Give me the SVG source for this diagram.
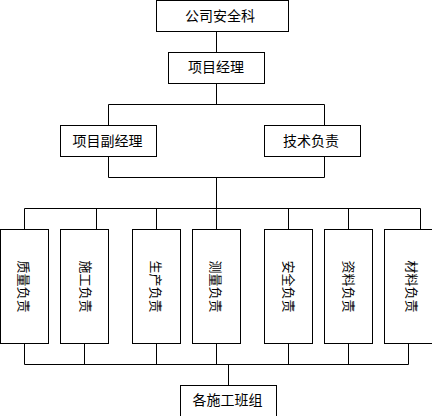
<svg xmlns="http://www.w3.org/2000/svg" width="432" height="416" viewBox="0 0 432 416">
<style>
rect{fill:#fff;stroke:#000;stroke-width:1}
#connectors path{fill:none;stroke:#000;stroke-width:1}
text{font-family:"Noto Sans CJK SC","Noto Sans",sans-serif;font-size:14px;fill:#000;text-anchor:middle;dominant-baseline:central}
text.v{font-size:13px}
</style>
<rect x="0" y="0" width="432" height="416" style="stroke:none"/>
<g id="connectors">
<path d="M216.5 31.5V52.5M216.5 83.5V104.5M108.5 125.5V104.5H324.5V125.5"/>
<path d="M108.5 156.5V177.5H324.5V156.5M216.5 177.5V208.5"/>
<path d="M24.5 229.5V208.5H420.5V229.5M96.5 208.5V229.5M156.5 208.5V229.5M216.5 208.5V229.5M288.5 208.5V229.5M348.5 208.5V229.5"/>
<path d="M24.5 343.5V364.5H408.5V343.5M84.5 343.5V364.5M156.5 343.5V364.5M216.5 343.5V364.5M288.5 343.5V364.5M348.5 343.5V364.5M228.5 364.5V385.5"/>
</g>
<g id="n-safety"><rect x="156.5" y="0.5" width="132" height="31"/><text x="220" y="15">公司安全科</text></g>
<g id="n-pm"><rect x="168.5" y="52.5" width="96" height="31"/><text x="216" y="66">项目经理</text></g>
<g id="n-dpm"><rect x="60.5" y="125.5" width="96" height="31"/><text x="107.5" y="139.5">项目副经理</text></g>
<g id="n-tech"><rect x="264.5" y="125.5" width="96" height="31"/><text x="311" y="139.5">技术负责</text></g>
<g id="n-quality"><rect x="0.5" y="229.5" width="48" height="114"/><text class="v" transform="translate(24.5 286.5) rotate(90)">质量负责</text></g>
<g id="n-construct"><rect x="60.5" y="229.5" width="48" height="114"/><text class="v" transform="translate(86 286.5) rotate(90)">施工负责</text></g>
<g id="n-production"><rect x="132.5" y="229.5" width="48" height="114"/><text class="v" transform="translate(156.5 286.5) rotate(90)">生产负责</text></g>
<g id="n-survey"><rect x="192.5" y="229.5" width="48" height="114"/><text class="v" transform="translate(216.5 286.5) rotate(90)">测量负责</text></g>
<g id="n-safe"><rect x="264.5" y="229.5" width="48" height="114"/><text class="v" transform="translate(289 286.5) rotate(90)">安全负责</text></g>
<g id="n-docs"><rect x="324.5" y="229.5" width="48" height="114"/><text class="v" transform="translate(349.5 286.5) rotate(90)">资料负责</text></g>
<g id="n-material"><rect x="384.5" y="229.5" width="48" height="114"/><text class="v" transform="translate(412 286.5) rotate(90)">材料负责</text></g>
<g id="n-teams"><rect x="180.5" y="385.5" width="96" height="40"/><text x="227.5" y="399">各施工班组</text></g>
</svg>
